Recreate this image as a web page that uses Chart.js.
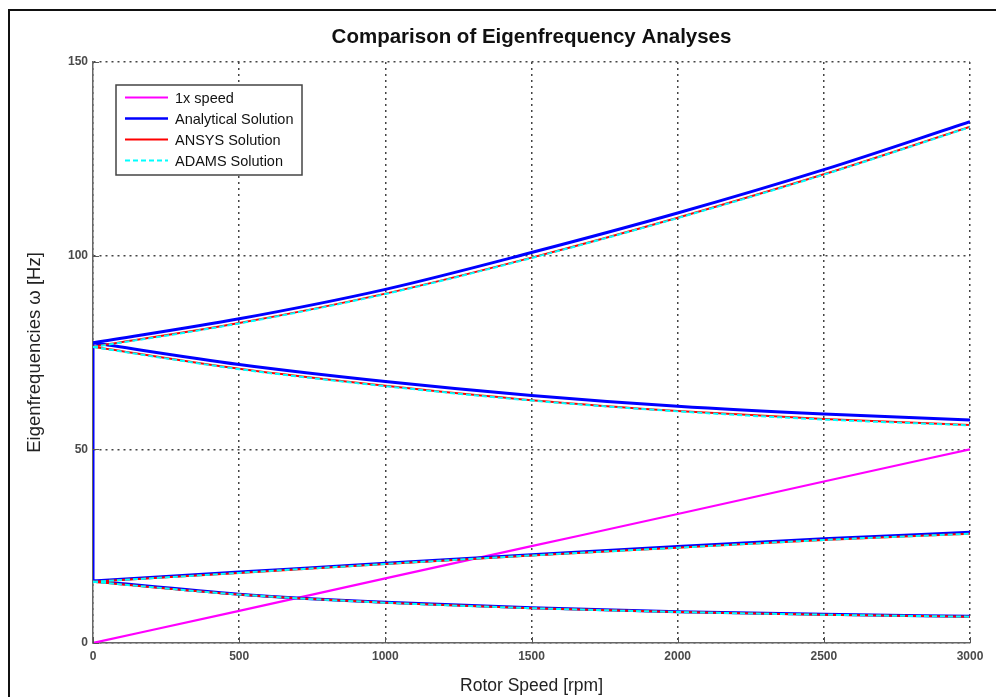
<!DOCTYPE html>
<html>
<head>
<meta charset="utf-8">
<title>Comparison of Eigenfrequency Analyses</title>
<script src="https://cdn.jsdelivr.net/npm/chart.js@4/dist/chart.umd.min.js"></script>
<style>
  body { margin: 0; background: #fff; }
  #wrap { position: relative; width: 996px; height: 697px; overflow: hidden; }
  #frame { position: absolute; left: 8px; top: 9px; width: 1000px; height: 700px;
           border-top: 2px solid #111; border-left: 2px solid #111; }
  #rateChart { position: absolute; left: 0; top: 0; }
</style>
</head>
<body>
<div id="wrap">
  <div id="frame"></div>
  <canvas id="rateChart" width="996" height="697"></canvas>
</div>
<script>
// rotor speed [rpm]
const rpm = [0, 500, 1000, 1500, 2000, 2500, 3000];

// 1x speed line [Hz]
const speed1x = [0, 8.3, 16.7, 25.0, 33.3, 41.7, 50.0];

// analytical solution [Hz]
const anaFwd2 = [77.5, 83.7, 91.3, 100.8, 111.0, 122.2, 134.6];
const anaBwd2 = [77.5, 71.9, 67.5, 63.9, 61.1, 59.1, 57.6];
const anaFwd1 = [16.0, 18.3, 20.6, 22.8, 24.9, 26.9, 28.6];
const anaBwd1 = [16.0, 12.6, 10.5, 9.1, 8.1, 7.4, 6.9];
// vertical link of the analytical curves at 0 rpm
const anaLink = [16.0, 77.5];

// ANSYS solution [Hz]
const ansysFwd2 = [76.5, 82.6, 90.2, 99.5, 109.8, 121.0, 133.3];
const ansysBwd2 = [76.5, 70.8, 66.4, 62.7, 59.9, 57.8, 56.3];
const ansysFwd1 = [15.8, 18.1, 20.4, 22.6, 24.6, 26.6, 28.2];
const ansysBwd1 = [15.8, 12.5, 10.4, 9.0, 8.0, 7.3, 6.8];

// ADAMS solution [Hz]
const adamsFwd2 = [76.4, 82.5, 90.1, 99.4, 109.7, 120.9, 133.2];
const adamsBwd2 = [76.4, 70.7, 66.3, 62.6, 59.8, 57.7, 56.2];
const adamsFwd1 = [15.8, 18.1, 20.4, 22.6, 24.6, 26.6, 28.2];
const adamsBwd1 = [15.8, 12.5, 10.4, 9.0, 8.0, 7.3, 6.8];

const yTicks = [0, 50, 100, 150];
const xTicks = [0, 500, 1000, 1500, 2000, 2500, 3000];

const seriesNames = ['1x speed', 'Analytical Solution', 'ANSYS Solution', 'ADAMS Solution'];

const FONT = "'Liberation Sans', Arial, Helvetica, sans-serif";

const styles = [
  { color: '#ff00ff', width: 2.2, dash: [] },
  { color: '#0000ff', width: 3, dash: [] },
  { color: '#ff0000', width: 2, dash: [] },
  { color: '#00ffff', width: 2, dash: [5, 3] }
];

const pts = ys => ys.map((y, i) => ({ x: rpm[i], y }));

function line(group, data, order) {
  const s = styles[group];
  return {
    label: seriesNames[group],
    data,
    borderColor: s.color,
    borderWidth: s.width,
    borderDash: s.dash,
    cubicInterpolationMode: 'monotone',
    pointRadius: 0,
    fill: false,
    order
  };
}

const datasets = [
  line(0, pts(speed1x), 4),
  line(1, pts(anaFwd2), 3),
  line(1, pts(anaBwd2), 3),
  line(1, pts(anaFwd1), 3),
  line(1, pts(anaBwd1), 3),
  line(1, anaLink.map(y => ({ x: 0, y })), 3),
  line(2, pts(ansysFwd2), 2),
  line(2, pts(ansysBwd2), 2),
  line(2, pts(ansysFwd1), 2),
  line(2, pts(ansysBwd1), 2),
  line(3, pts(adamsFwd2), 1),
  line(3, pts(adamsBwd2), 1),
  line(3, pts(adamsFwd1), 1),
  line(3, pts(adamsBwd1), 1)
];

// inward tick marks + boxed legend inside the plot
const extras = {
  id: 'extras',
  afterDraw(chart) {
    const { ctx, chartArea: a, scales: { x, y } } = chart;
    ctx.save();
    ctx.strokeStyle = '#555';
    ctx.lineWidth = 1;
    ctx.beginPath();
    xTicks.forEach(v => {
      const px = Math.round(x.getPixelForValue(v)) + 0.5;
      ctx.moveTo(px, a.bottom);
      ctx.lineTo(px, a.bottom - 6);
    });
    yTicks.forEach(v => {
      const py = Math.round(y.getPixelForValue(v)) + 0.5;
      ctx.moveTo(a.left, py);
      ctx.lineTo(a.left + 6, py);
    });
    ctx.stroke();

    // legend
    const bx = 116, by = 85, bw = 186, bh = 90;
    ctx.fillStyle = '#fff';
    ctx.fillRect(bx, by, bw, bh);
    ctx.strokeStyle = '#444';
    ctx.lineWidth = 1.5;
    ctx.strokeRect(bx, by, bw, bh);
    ctx.font = '14.5px ' + FONT;
    ctx.textBaseline = 'middle';
    seriesNames.forEach((name, i) => {
      const s = styles[i];
      const ry = by + 12.5 + i * 21;
      ctx.strokeStyle = s.color;
      ctx.lineWidth = Math.min(s.width, 2.5);
      ctx.setLineDash(s.dash);
      ctx.beginPath();
      ctx.moveTo(125, ry);
      ctx.lineTo(168, ry);
      ctx.stroke();
      ctx.setLineDash([]);
      ctx.fillStyle = '#111';
      ctx.fillText(name, 175, ry + 1);
    });
    ctx.restore();
  }
};

const tickFont = { family: FONT, size: 12, weight: 'bold' };
const plain = v => String(v);

new Chart(document.getElementById('rateChart'), {
  type: 'line',
  data: { datasets },
  plugins: [extras],
  options: {
    responsive: false,
    animation: false,
    layout: { padding: { left: 0, right: 26, top: 0, bottom: 0 } },
    plugins: {
      legend: { display: false },
      tooltip: { enabled: false },
      title: {
        display: true,
        fullSize: false,
        text: 'Comparison of Eigenfrequency Analyses',
        color: '#111',
        font: { family: FONT, size: 20.5, weight: 'bold' },
        padding: { top: 25, bottom: 12.4 }
      }
    },
    scales: {
      x: {
        type: 'linear',
        min: 0,
        max: 3000,
        afterFit: s => { s.height = 54; },
        ticks: { stepSize: 500, color: '#4a4a4a', font: tickFont, padding: 6, callback: plain },
        grid: { color: '#444', lineWidth: 1.5, drawTicks: false },
        border: { color: '#666', width: 1.5, dash: [2, 4] },
        title: {
          display: true,
          text: 'Rotor Speed [rpm]',
          color: '#222',
          font: { family: FONT, size: 17.5 },
          padding: { top: 0, bottom: 0 }
        }
      },
      y: {
        min: 0,
        max: 150,
        afterFit: s => { s.width = 93; },
        ticks: { stepSize: 50, color: '#4a4a4a', font: tickFont, padding: 5, callback: plain },
        grid: { color: '#444', lineWidth: 1.5, drawTicks: false },
        border: { color: '#666', width: 1.5, dash: [2, 4] },
        title: {
          display: true,
          text: 'Eigenfrequencies ω [Hz]',
          color: '#222',
          font: { family: FONT, size: 18.5 },
          padding: { top: 24, bottom: 0 }
        }
      }
    }
  }
});
</script>
</body>
</html>
